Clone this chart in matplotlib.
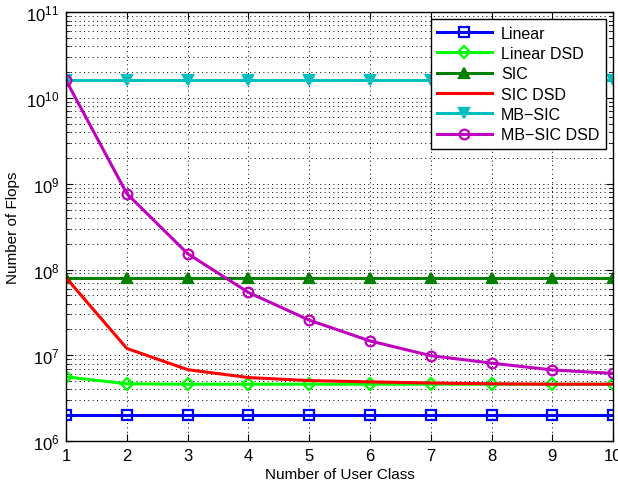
import matplotlib
matplotlib.use("Agg")
import matplotlib.pyplot as plt
from matplotlib.ticker import LogLocator, NullFormatter, FixedLocator

plt.rcParams['font.family'] = ['Liberation Sans', 'DejaVu Sans']
plt.rcParams['mathtext.fontset'] = 'custom'
plt.rcParams['mathtext.rm'] = 'Liberation Sans'
plt.rcParams['mathtext.it'] = 'Liberation Sans'

x = [1, 2, 3, 4, 5, 6, 7, 8, 9, 10]
linear = [2.0e6] * 10
linear_dsd = [5.6e6, 4.65e6, 4.6e6, 4.6e6, 4.6e6, 4.6e6, 4.6e6, 4.6e6, 4.6e6, 4.6e6]
sic = [8.0e7] * 10
sic_dsd = [8.0e7, 1.2e7, 6.8e6, 5.5e6, 5.07e6, 4.9e6, 4.75e6, 4.65e6, 4.6e6, 4.6e6]
mb_sic = [1.6e10] * 10
mb_sic_dsd = [1.6e10, 7.65e8, 1.53e8, 5.4e7, 2.57e7, 1.47e7, 9.9e6, 8.1e6, 6.75e6, 6.15e6]

fig = plt.figure(figsize=(6.18, 4.89), dpi=100)
ax = fig.add_axes([0.107, 0.096, 0.885, 0.877])

lw = 2.2
ms = 6.5
mew = 1.6
ax.plot(x, linear, color=(0, 0, 1), lw=lw, marker='s', ms=ms, mfc='none', mew=mew, label='Linear')
ax.plot(x, linear_dsd, color=(0, 1, 0), lw=lw, marker='D', ms=ms - 0.5, mfc='none', mew=mew, label='Linear DSD')
ax.plot(x, sic, color=(0, 0.5, 0), lw=lw, marker='^', ms=ms + 1, mew=mew, label='SIC')
ax.plot(x, sic_dsd, color=(1, 0, 0), lw=lw, label='SIC DSD')
ax.plot(x, mb_sic, color=(0, 0.75, 0.75), lw=lw, marker='v', ms=ms + 1, mew=mew, label='MB\u2212SIC')
ax.plot(x, mb_sic_dsd, color=(0.75, 0, 0.75), lw=lw, marker='o', ms=ms + 0.5, mfc='none', mew=mew, label='MB\u2212SIC DSD')

ax.set_yscale('log')
ax.set_xlim(1, 10)
ax.set_ylim(1e6, 1e11)
ax.xaxis.set_major_locator(FixedLocator(x))
ax.yaxis.set_major_locator(LogLocator(base=10, numticks=20))
ax.yaxis.set_minor_locator(LogLocator(base=10, subs=range(2, 10), numticks=20))
ax.yaxis.set_minor_formatter(NullFormatter())

grid_ls = (0, (1, 3.5))
ax.grid(True, which='major', axis='both', color='black', linestyle=grid_ls, linewidth=0.7)
ax.grid(True, which='minor', axis='y', color='black', linestyle=grid_ls, linewidth=0.7)

ax.tick_params(which='both', direction='in', top=True, right=True, labelsize=12, pad=5)
ax.tick_params(which='major', length=5)
ax.tick_params(which='minor', length=3)
for s in ax.spines.values():
    s.set_linewidth(1.0)

ax.set_xlabel('Number of User Class', fontsize=11, labelpad=3)
ax.set_ylabel('Number of Flops', fontsize=11, labelpad=4)

leg = ax.legend(loc='upper right', fontsize=11.5, frameon=True, fancybox=False,
                edgecolor='black', framealpha=1, borderpad=0.4, labelspacing=0.33,
                handlelength=3.4, handletextpad=0.6, borderaxespad=0.45)
leg.get_frame().set_linewidth(1.0)

fig.savefig('out.png', dpi=100)
